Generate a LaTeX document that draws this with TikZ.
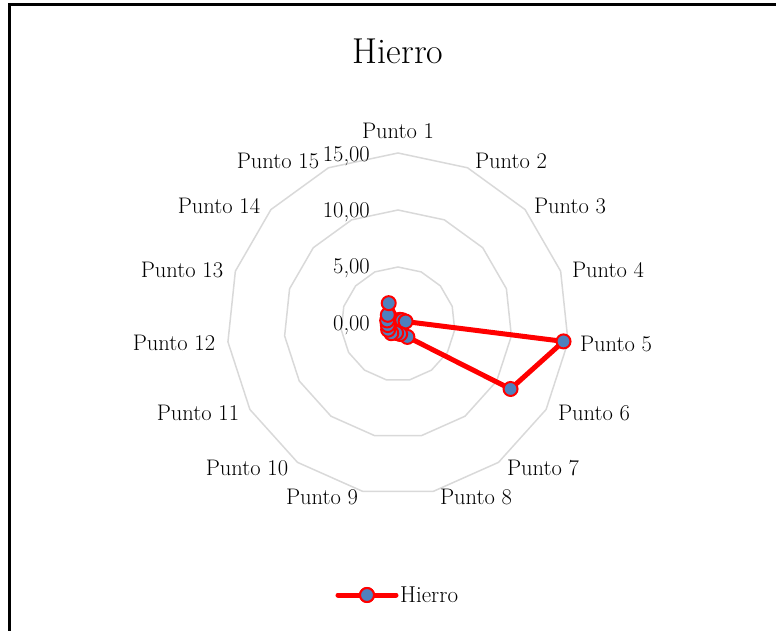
\documentclass[tikz,border=0pt]{standalone}
\usetikzlibrary{positioning}
\definecolor{gridgray}{HTML}{D9D9D9}
\definecolor{markblue}{HTML}{4F81BD}
\tikzstyle{frame} = [draw=black, line width=3pt]
\tikzstyle{ring} = [draw=gridgray, line width=1.5pt]
\tikzstyle{axislabel} = [font=\fontsize{22.5}{27}\selectfont, inner sep=0pt]
\tikzstyle{tick} = [axislabel, anchor=east]
\tikzstyle{series} = [draw=red, line width=5pt, line join=round]
\tikzstyle{dot} = [circle, draw=red, fill=markblue, line width=2pt,
    minimum size=14pt, inner sep=0pt]
\def\unitr{11.4}

\begin{document}
\begin{tikzpicture}[x=1pt, y=1pt]
        \useasboundingbox (-398,-307) rectangle (378,324);
        % Frame and title
        \draw[frame] (-388,319) rectangle (400,-330);
        \node [font=\fontsize{36}{43}\selectfont, inner sep=0pt] (title) at (0,273) {Hierro};
        % Grid rings
        \foreach \r in {57,114,171}
            \draw[ring] (90:\r) \foreach \a in {66,42,...,-246} {-- (\a:\r)} -- cycle;
        % Tick labels
        \node [tick] (t15) at (-28,168) {15,00};
        \node [tick] (t10) at (-28,112) {10,00};
        \node [tick] (t5) at (-28,56) {5,00};
        \node [tick] (t0) at (-28,-1) {0,00};
        % Axis labels
        \node [axislabel] (lab1) at (0,193) {Punto 1};
        \node [axislabel] (lab2) at (113,163) {Punto 2};
        \node [axislabel] (lab3) at (172,118) {Punto 3};
        \node [axislabel] (lab4) at (210,54) {Punto 4};
        \node [axislabel] (lab5) at (218,-20) {Punto 5};
        \node [axislabel] (lab6) at (196,-89) {Punto 6};
        \node [axislabel] (lab7) at (145,-144) {Punto 7};
        \node [axislabel] (lab8) at (78,-173) {Punto 8};
        \node [axislabel] (lab9) at (-76,-173) {Punto 9};
        \node [axislabel] (lab10) at (-151,-144) {Punto 10};
        \node [axislabel] (lab11) at (-200,-89) {Punto 11};
        \node [axislabel] (lab12) at (-224,-19) {Punto 12};
        \node [axislabel] (lab13) at (-216,54) {Punto 13};
        \node [axislabel] (lab14) at (-179,118) {Punto 14};
        \node [axislabel] (lab15) at (-120,163) {Punto 15};
        % Data points
        \coordinate (d1) at (90:{0.3*\unitr});
        \coordinate (d2) at (66:{0.4*\unitr});
        \coordinate (d3) at (42:{0.5*\unitr});
        \coordinate (d4) at (18:{0.7*\unitr});
        \coordinate (d5) at (-6:{14.6*\unitr});
        \coordinate (d6) at (-30:{11.4*\unitr});
        \coordinate (d7) at (-54:{1.4*\unitr});
        \coordinate (d8) at (-78:{0.9*\unitr});
        \coordinate (d9) at (-102:{0.8*\unitr});
        \coordinate (d10) at (-126:{1.0*\unitr});
        \coordinate (d11) at (-150:{1.0*\unitr});
        \coordinate (d12) at (-174:{0.9*\unitr});
        \coordinate (d13) at (-198:{1.0*\unitr});
        \coordinate (d14) at (-222:{1.2*\unitr});
        \coordinate (d15) at (-246:{2.0*\unitr});
        % Draw series
        \path [series] (d1) -- (d2) -- (d3) -- (d4) -- (d5) -- (d6) -- (d7) -- (d8)
            -- (d9) -- (d10) -- (d11) -- (d12) -- (d13) -- (d14) -- (d15) -- cycle;
        \foreach \i in {1,...,15}
            \node [dot] (m\i) at (d\i) {};
        % Legend
        \node [dot] (legdot) at (-31,-271) {};
        \coordinate [left=21pt of legdot] (legL);
        \coordinate [right=21pt of legdot] (legR);
        \path [series, line cap=round] (legL) -- (legR);
        \node [dot] (legdot2) at (legdot) {};
        \node [font=\fontsize{23}{28}\selectfont, inner sep=0pt, anchor=west, right=4pt of legR] (legtext) {Hierro};
    \end{tikzpicture}
\end{document}
